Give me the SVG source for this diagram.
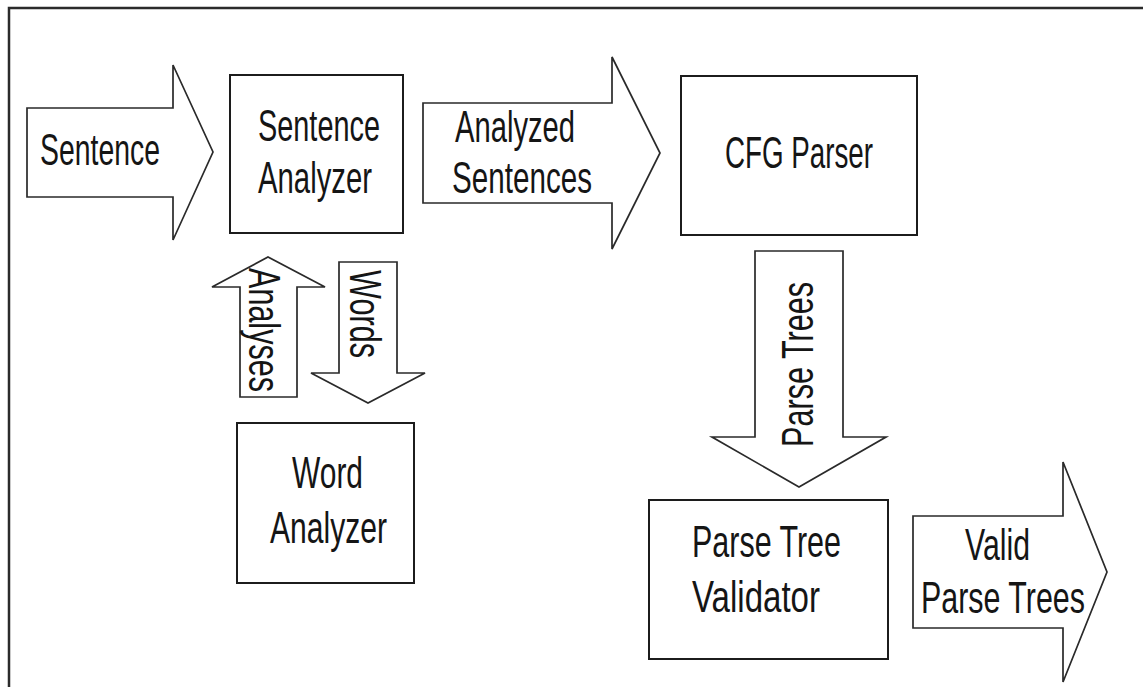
<svg xmlns="http://www.w3.org/2000/svg" width="1143" height="687" viewBox="0 0 1143 687">
  <style>
    .frame { fill: none; stroke: #2b2b2b; stroke-width: 2.5; }
    .box { fill: #fff; stroke: #1c1c1c; stroke-width: 2; }
    .arrow { fill: #fff; stroke: #2a2a2a; stroke-width: 1.7; stroke-linejoin: miter; }
    .lbl { font-family: "Liberation Sans", Arial, sans-serif; font-size: 44px; fill: #151515; }
  </style>

  <rect width="1143" height="687" fill="#fff"/>
  <!-- page frame: only the left and top edges are visible -->
  <path class="frame" d="M9,687 V8 H1143"/>

  <!-- block arrows carrying data between stages -->
  <g id="connectors">
    <g id="arrow-sentence">
      <polygon class="arrow" points="27,108 173,108 173,65 213,152 173,240 173,197 27,197"/>
      <text class="lbl" x="40" y="165" textLength="120" lengthAdjust="spacingAndGlyphs">Sentence</text>
    </g>
    <g id="arrow-analyzed-sentences">
      <polygon class="arrow" points="423,103 612,103 612,57 660,153 612,249 612,203 423,203"/>
      <text class="lbl" x="455" y="142" textLength="120" lengthAdjust="spacingAndGlyphs">Analyzed</text>
      <text class="lbl" x="452" y="193" textLength="140" lengthAdjust="spacingAndGlyphs">Sentences</text>
    </g>
    <g id="arrow-analyses">
      <polygon class="arrow" points="240,397 240,287 212,287 268,257 325,287 297,287 297,397"/>
      <text class="lbl" transform="translate(249,268) rotate(90)" x="0" y="0" textLength="124" lengthAdjust="spacingAndGlyphs">Analyses</text>
    </g>
    <g id="arrow-words">
      <polygon class="arrow" points="339,262 397,262 397,373 425,373 368,403 311,373 339,373"/>
      <text class="lbl" transform="translate(350,270) rotate(90)" x="0" y="0" textLength="88" lengthAdjust="spacingAndGlyphs">Words</text>
    </g>
    <g id="arrow-parse-trees">
      <polygon class="arrow" points="755,251 843,251 843,437 886,437 799,487 712,437 755,437"/>
      <text class="lbl" transform="translate(813,447) rotate(-90)" x="0" y="0" textLength="165" lengthAdjust="spacingAndGlyphs">Parse Trees</text>
    </g>
    <g id="arrow-valid-parse-trees">
      <polygon class="arrow" points="913,516 1063,516 1063,462 1107,572 1063,682 1063,628 913,628"/>
      <text class="lbl" x="965" y="560" textLength="65" lengthAdjust="spacingAndGlyphs">Valid</text>
      <text class="lbl" x="921" y="613" textLength="164" lengthAdjust="spacingAndGlyphs">Parse Trees</text>
    </g>
  </g>

  <!-- processing stages -->
  <g id="sentence-analyzer">
    <rect class="box" x="230" y="75" width="173" height="158"/>
    <text class="lbl" x="258" y="141" textLength="122" lengthAdjust="spacingAndGlyphs">Sentence</text>
    <text class="lbl" x="258" y="193" textLength="114" lengthAdjust="spacingAndGlyphs">Analyzer</text>
  </g>

  <g id="cfg-parser">
    <rect class="box" x="681" y="76" width="236" height="159"/>
    <text class="lbl" x="725" y="168" textLength="148" lengthAdjust="spacingAndGlyphs">CFG Parser</text>
  </g>

  <g id="word-analyzer">
    <rect class="box" x="237" y="423" width="177" height="160"/>
    <text class="lbl" x="292" y="488" textLength="71" lengthAdjust="spacingAndGlyphs">Word</text>
    <text class="lbl" x="270" y="543" textLength="117" lengthAdjust="spacingAndGlyphs">Analyzer</text>
  </g>

  <g id="parse-tree-validator">
    <rect class="box" x="649" y="500" width="239" height="159"/>
    <text class="lbl" x="692" y="557" textLength="149" lengthAdjust="spacingAndGlyphs">Parse Tree</text>
    <text class="lbl" x="692" y="612" textLength="128" lengthAdjust="spacingAndGlyphs">Validator</text>
  </g>
</svg>
